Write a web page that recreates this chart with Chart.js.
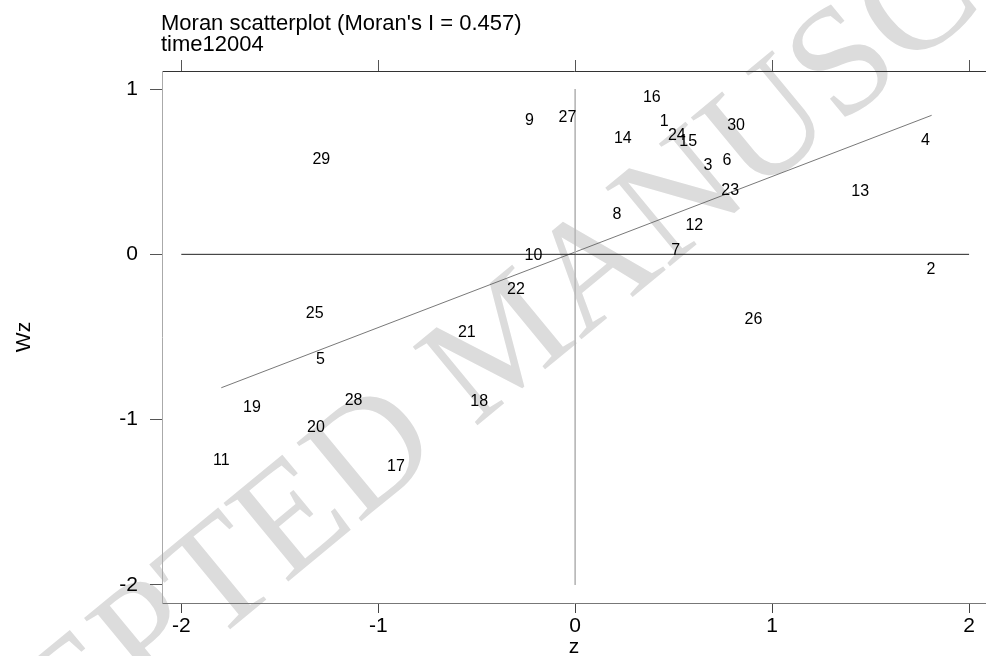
<!DOCTYPE html>
<html><head><meta charset="utf-8">
<script src="https://cdn.jsdelivr.net/npm/chart.js@4/dist/chart.umd.min.js"></script>
<style>html,body{margin:0;padding:0;background:#fff;} canvas{display:block;}</style>
</head><body>
<canvas id="c" width="986" height="656"></canvas>
<script>
// ---- data ----
const regionIds = ["1","2","3","4","5","6","7","8","9","10","11","12","13","14","15","16","17","18","19","20","21","22","23","24","25","26","27","28","29","30"];
const zValues  = [0.452, 1.807, 0.674, 1.778, -1.294, 0.770, 0.511, 0.212, -0.232, -0.212, -1.797, 0.605, 1.447, 0.242, 0.574, 0.389, -0.910, -0.487, -1.641, -1.316, -0.550, -0.301, 0.787, 0.516, -1.323, 0.905, -0.039, -1.125, -1.289, 0.817];
const wzValues = [0.800, -0.094, 0.534, 0.691, -0.639, 0.570, 0.020, 0.242, 0.806, -0.010, -1.250, 0.171, 0.377, 0.700, 0.679, 0.948, -1.281, -0.893, -0.924, -1.048, -0.474, -0.212, 0.383, 0.720, -0.356, -0.393, 0.827, -0.887, 0.575, 0.776];
const fitLineZ  = [-1.797, 1.810];
const fitLineWz = [-0.807, 0.841];
const hLineZ = [-2, 2];
const hLineWz = [0, 0];
const vLineZ = [0, 0];
const vLineWz = [1, -2];
const xTicks = [-2, -1, 0, 1, 2];
const yTicks = [-2, -1, 0, 1];
const titleLines = ["Moran scatterplot (Moran's I = 0.457)", "time12004"];
const xTitle = "z";
const yTitle = "Wz";
const watermarkText = "ACCEPTED MANUSCRIPT";

const FONT = "Arial, 'Liberation Sans', Helvetica, sans-serif";
const pts = (xs, ys) => xs.map((x, i) => ({x: x, y: ys[i]}));

const bgPlugin = {
  id: 'bgAndWatermark',
  beforeDraw(chart) {
    const ctx = chart.ctx;
    ctx.save();
    ctx.fillStyle = '#fff';
    ctx.fillRect(0, 0, chart.width, chart.height);
    // watermark
    ctx.font = "155px 'Liberation Serif', 'Times New Roman', serif";
    ctx.fillStyle = '#dcdcdc';
    ctx.textBaseline = 'alphabetic';
    ctx.textAlign = 'left';
    const pre = ctx.measureText("ACCEPTED ").width;
    ctx.translate(474, 428);
    ctx.rotate(-0.69);
    ctx.fillText(watermarkText, -pre, 0);
    ctx.restore();
  }
};

const labelPlugin = {
  id: 'pointLabels',
  afterDatasetsDraw(chart) {
    const ctx = chart.ctx;
    const meta = chart.getDatasetMeta(3);
    ctx.save();
    ctx.font = "16px " + FONT;
    ctx.fillStyle = '#000';
    ctx.textAlign = 'center';
    ctx.textBaseline = 'middle';
    meta.data.forEach((p, i) => ctx.fillText(regionIds[i], p.x, p.y));
    ctx.restore();
  },
  afterDraw(chart) {
    const ctx = chart.ctx;
    ctx.save();
    ctx.font = "22px " + FONT;
    ctx.fillStyle = '#000';
    ctx.textAlign = 'left';
    ctx.textBaseline = 'alphabetic';
    ctx.fillText(titleLines[0], 161, 30);
    ctx.fillText(titleLines[1], 161, 51);
    ctx.restore();
  }
};

const setTicks = (vals) => (scale) => { scale.ticks = vals.map(v => ({value: v})); };

new Chart(document.getElementById('c'), {
  type: 'scatter',
  data: {
    datasets: [
      {data: pts(hLineZ, hLineWz), showLine: true, borderColor: '#222', borderWidth: 1, pointRadius: 0, xAxisID: 'x', yAxisID: 'y'},
      {data: pts(vLineZ, vLineWz), showLine: true, borderColor: '#b8b8b8', borderWidth: 1, pointRadius: 0, xAxisID: 'x', yAxisID: 'y'},
      {data: pts(fitLineZ, fitLineWz), showLine: true, borderColor: '#555', borderWidth: 0.8, pointRadius: 0, xAxisID: 'x', yAxisID: 'y'},
      {data: pts(zValues, wzValues), showLine: false, pointRadius: 0, xAxisID: 'x', yAxisID: 'y'}
    ]
  },
  options: {
    responsive: false,
    devicePixelRatio: 1,
    animation: false,
    layout: {padding: 0},
    plugins: {legend: {display: false}, tooltip: {enabled: false}, title: {display: false}},
    scales: {
      x: {
        type: 'linear', position: 'bottom', min: -2.098, max: 2.086,
        afterBuildTicks: setTicks(xTicks),
        grid: {drawOnChartArea: false, drawTicks: true, tickLength: 10, color: '#444', lineWidth: 1},
        border: {display: true, color: '#777', width: 1},
        ticks: {color: '#000', font: {family: FONT, size: 21}, padding: 1, maxRotation: 0, autoSkip: false},
        title: {display: true, text: xTitle, color: '#000', font: {family: FONT, size: 21, lineHeight: 1}, padding: {top: 0, bottom: -1.5}},
        afterFit: (s) => { s.height = 53; }
      },
      x2: {
        type: 'linear', position: 'top', min: -2.098, max: 2.086,
        afterBuildTicks: setTicks(xTicks),
        grid: {drawOnChartArea: false, drawTicks: true, tickLength: 11, color: '#555', lineWidth: 1},
        border: {display: true, color: '#333', width: 1},
        ticks: {display: false},
        afterFit: (s) => { s.height = 71; }
      },
      y: {
        type: 'linear', position: 'left', min: -2.109, max: 1.109,
        afterBuildTicks: setTicks(yTicks),
        grid: {drawOnChartArea: false, drawTicks: true, tickLength: 12, color: '#555', lineWidth: 1},
        border: {display: true, color: '#aaa', width: 1},
        ticks: {color: '#000', font: {family: FONT, size: 21}, padding: 12, autoSkip: false},
        title: {display: true, text: yTitle, color: '#000', font: {family: FONT, size: 21}, padding: {top: 12, bottom: 0}},
        afterFit: (s) => { s.width = 162; }
      }
    }
  },
  plugins: [bgPlugin, labelPlugin]
});
</script>
</body></html>
